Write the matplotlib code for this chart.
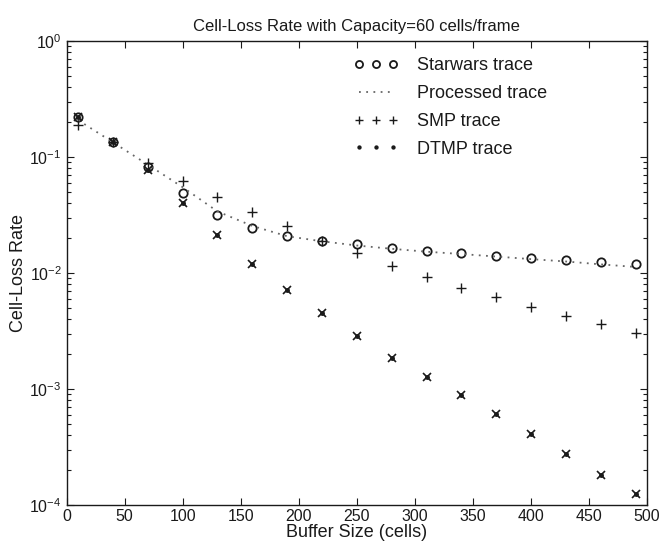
import numpy as np
import matplotlib
matplotlib.use("Agg")
import matplotlib.pyplot as plt
from matplotlib.ticker import LogLocator, FixedLocator, NullFormatter

plt.rcParams["font.family"] = ["Liberation Sans", "DejaVu Sans"]
plt.rcParams["mathtext.fontset"] = "custom"
plt.rcParams["mathtext.rm"] = "Liberation Sans"
plt.rcParams["mathtext.it"] = "Liberation Sans:italic"

# ============================================================
# DATA
# ============================================================

buffer_size = [10, 40, 70, 100, 130, 160, 190, 220, 250, 280, 310, 340, 370, 400, 430, 460, 490]

starwars = [0.222, 0.1355, 0.0825, 0.0486, 0.0316, 0.0243, 0.0208, 0.0190, 0.0177,
            0.0165, 0.0156, 0.0150, 0.0141, 0.0136, 0.0129, 0.0124, 0.0120]

processed = [0.208, 0.134, 0.086, 0.055, 0.034, 0.0255, 0.0208, 0.0188, 0.0173,
             0.0162, 0.0153, 0.0146, 0.0139, 0.0132, 0.0126, 0.0119, 0.0113]

smp = [0.189, 0.1355, 0.0888, 0.0625, 0.0449, 0.0334, 0.0254, 0.0190, 0.0148,
       0.01156, 0.0093, 0.00747, 0.00617, 0.00506, 0.00426, 0.00361, 0.00305]

dtmp = [0.222, 0.1355, 0.0773, 0.0399, 0.0213, 0.0119, 0.00713, 0.0045, 0.00286,
        0.00184, 0.00128, 0.000888, 0.000617, 0.000415, 0.000279, 0.000184, 0.000124]

x_ticks = [0, 50, 100, 150, 200, 250, 300, 350, 400, 450, 500]

# ============================================================
# PLOT
# ============================================================

ink = "#1a1a1a"

fig = plt.figure(figsize=(6.72, 5.54), dpi=100)
ax = fig.add_axes([0.099, 0.088, 0.864, 0.838])

ax.plot(buffer_size, starwars, linestyle="none", marker="o", markersize=6,
        markerfacecolor="none", markeredgecolor=ink, markeredgewidth=1.3,
        label="Starwars trace")
ax.plot(buffer_size, processed, linestyle=(0, (1, 3)), color="#666666",
        linewidth=1.3, label="Processed trace")
ax.plot(buffer_size, smp, linestyle="none", marker="+", markersize=7,
        color=ink, markeredgewidth=1.0, label="SMP trace")
# DTMP marks look like an x with a dark centre
ax.plot(buffer_size, dtmp, linestyle="none", marker="x", markersize=5.5,
        color=ink, markeredgewidth=1.2)
ax.plot(buffer_size, dtmp, linestyle="none", marker=".", markersize=5,
        color=ink, label="DTMP trace")

ax.set_yscale("log")
ax.set_xlim(0, 500)
ax.set_ylim(1e-4, 1e0)

ax.xaxis.set_major_locator(FixedLocator(x_ticks))
ax.yaxis.set_major_locator(LogLocator(base=10, numticks=10))
ax.yaxis.set_minor_locator(LogLocator(base=10, subs=np.arange(2, 10), numticks=10))
ax.yaxis.set_minor_formatter(NullFormatter())

ax.tick_params(axis="both", which="both", direction="in", top=True, right=True,
               labelsize=11.5, colors=ink, width=0.8)
ax.tick_params(axis="both", which="major", length=5)
ax.tick_params(axis="y", which="minor", length=3)
ax.tick_params(axis="x", pad=3)

for spine in ax.spines.values():
    spine.set_color(ink)
    spine.set_linewidth(1.0)

ax.set_title("Cell-Loss Rate with Capacity=60 cells/frame", fontsize=12, color=ink, pad=7)
ax.set_xlabel("Buffer Size (cells)", fontsize=13, color=ink, labelpad=0)
ax.set_ylabel("Cell-Loss Rate", fontsize=13, color=ink, labelpad=2)

leg = ax.legend(loc="upper left", bbox_to_anchor=(0.466, 1.0), frameon=False,
                numpoints=3, handlelength=2.5, handletextpad=1.0,
                fontsize=13, labelspacing=0.6, markerscale=0.85)
for text in leg.get_texts():
    text.set_color(ink)

plt.savefig("out.png", dpi=100)
plt.close()
